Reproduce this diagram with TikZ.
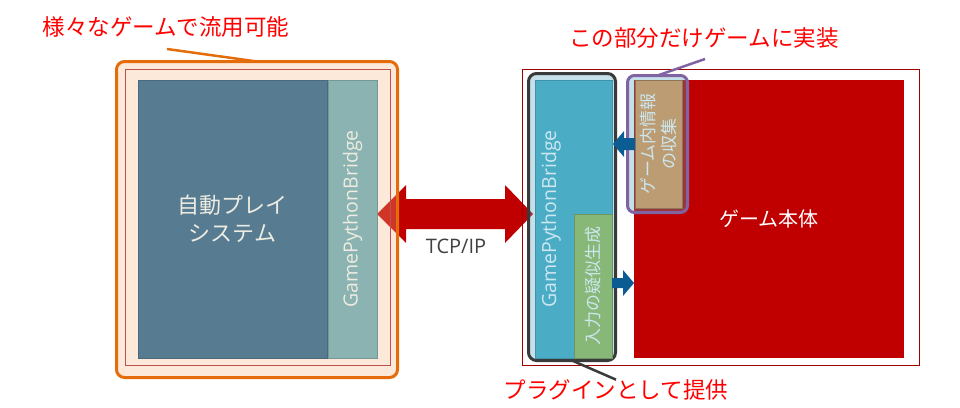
\documentclass[tikz,border=0pt]{standalone}
\usepackage{fontspec}
\setmainfont{Noto Sans CJK JP}
\newfontfamily\latinfont{Open Sans}
\usetikzlibrary{positioning,backgrounds}
\definecolor{playblue}{HTML}{577C92}
\definecolor{bridgeteal}{HTML}{8AB3B1}
\definecolor{frameorange}{HTML}{E46C0A}
\definecolor{peach}{RGB}{245,182,132}
\definecolor{thinred}{HTML}{C0504D}
\definecolor{darkframe}{HTML}{A00000}
\definecolor{plugline}{HTML}{3A3A3A}
\definecolor{overlayblue}{RGB}{82,160,191}
\definecolor{bridgeblue}{HTML}{4BACC6}
\definecolor{fakegreen}{HTML}{88B878}
\definecolor{gamered}{HTML}{C00000}
\definecolor{infobrown}{HTML}{BC9C72}
\definecolor{implpurple}{HTML}{8064A2}
\definecolor{arrowblue}{HTML}{0C5C94}
\definecolor{notered}{HTML}{FF0000}
\definecolor{lightbeige}{HTML}{EEECE1}
\definecolor{lighttext}{HTML}{CDE7F0}

\begin{document}
\begin{tikzpicture}[x=1pt, y=-1pt, every node/.style={inner sep=0pt, outer sep=0pt, align=center},
  box/.style={minimum width=#1, minimum height=278pt},
  note/.style={text=notered, font=\fontsize{22.5}{26}\selectfont},
  callout/.style={line width=2.5pt},
  blockarrow/.style={fill=arrowblue}]
\useasboundingbox (0,0) rectangle (960,407);

% reusable automatic play side
\node (frameL) [draw=frameorange, line width=3pt, rounded corners=8pt, fill=peach, fill opacity=0.3, minimum width=281pt, minimum height=316pt] at (257,219.5) {};
\node (innerL) [draw=thinred, line width=0.8pt, minimum width=265pt, minimum height=296pt] at (257.5,217) {};
\node (auto) [box=189pt, fill=playblue, draw=playblue!85!black, line width=0.6pt, text=lightbeige, font=\fontsize{22}{28}\selectfont] at (232.5,219) {自動プレイ\\システム};
\node (gpbL) [box=49pt, right=1pt of auto, fill=bridgeteal, draw=bridgeteal!85!black, line width=0.6pt] {};
\node [rotate=90, text=lightbeige, font=\latinfont\fontsize{19.5}{22}\selectfont] at (gpbL) {GamePythonBridge};

% game side
\node (frameR) [draw=darkframe, line width=0.8pt, minimum width=397pt, minimum height=296pt] at (720.5,217) {};
\node (plugin) [draw=plugline, line width=3pt, rounded corners=8pt, fill=overlayblue, fill opacity=0.33, minimum width=87pt, minimum height=287pt] at (572,217) {};
\node (gpbR) [box=77pt, fill=bridgeblue, draw=bridgeblue!85!black, line width=0.6pt] at (573.5,219) {};
\node [rotate=90, text=lighttext, font=\latinfont\fontsize{19.5}{22}\selectfont] at (551,219) {GamePythonBridge};
\node (fake) [fill=fakegreen, draw=fakegreen!80!black, line width=0.6pt, minimum width=38pt, minimum height=144pt] at (593,286) {};
\node [rotate=90, text=lighttext, font=\fontsize{17}{20}\selectfont] at (fake) {入力の疑似生成};
\node (body) [box=270pt, fill=gamered, text=white, font=\fontsize{20}{24}\selectfont] at (769,219) {\raisebox{2pt}{ゲーム本体}};
\node (impl) [draw=implpurple, line width=3pt, rounded corners=7pt, fill=overlayblue, fill opacity=0.33, minimum width=60pt, minimum height=137pt] at (657.5,144) {};
\node (info) [fill=infobrown, draw=infobrown!75!black, line width=0.6pt, minimum width=47pt, minimum height=128pt] at (658.5,144) {};
\node [rotate=90, text=lighttext, font=\fontsize{17}{21}\selectfont] at (info) {ゲーム内情報\\の収集};

\node (tcp) [text=black!75, font=\latinfont\fontsize{20}{24}\selectfont] at (456,246) {TCP/IP};

% notes
\node (note1) [note] at (166,27) {様々なゲームで流用可能};
\node (note2) [note] at (704,38) {この部分だけゲームに実装};
\node (note3) [note] at (616,390) {プラグインとして提供};
\coordinate (c1) at (167,49);
\coordinate (c2) at (705,59);
\draw[callout, frameorange] (c1) -- (frameL.north);
\draw[callout, implpurple] (c2) -- (impl.north);
\draw[callout, plugline] (plugin.south) -- (note3.north);

% arrows
\begin{scope}[on background layer]
\fill[gamered] ([yshift=5pt]gpbL.east) -- ++(29,-29) -- ++(0,14) -- ++(99,0) -- ++(0,-14) -- ++(28,29) -- ++(-28,29) -- ++(0,-14) -- ++(-99,0) -- ++(0,14) -- cycle;
\end{scope}
\fill[blockarrow] (info.west) ++(0,-6) -- ++(-11,0) -- ++(0,-7) -- ++(-11,13) -- ++(11,13) -- ++(0,-7) -- ++(11,0) -- cycle;
\fill[blockarrow] ([yshift=3pt]fake.east) ++(0,-5) -- ++(11,0) -- ++(0,-8) -- ++(11,13) -- ++(-11,13) -- ++(0,-8) -- ++(-11,0) -- cycle;
\end{tikzpicture}
\end{document}
